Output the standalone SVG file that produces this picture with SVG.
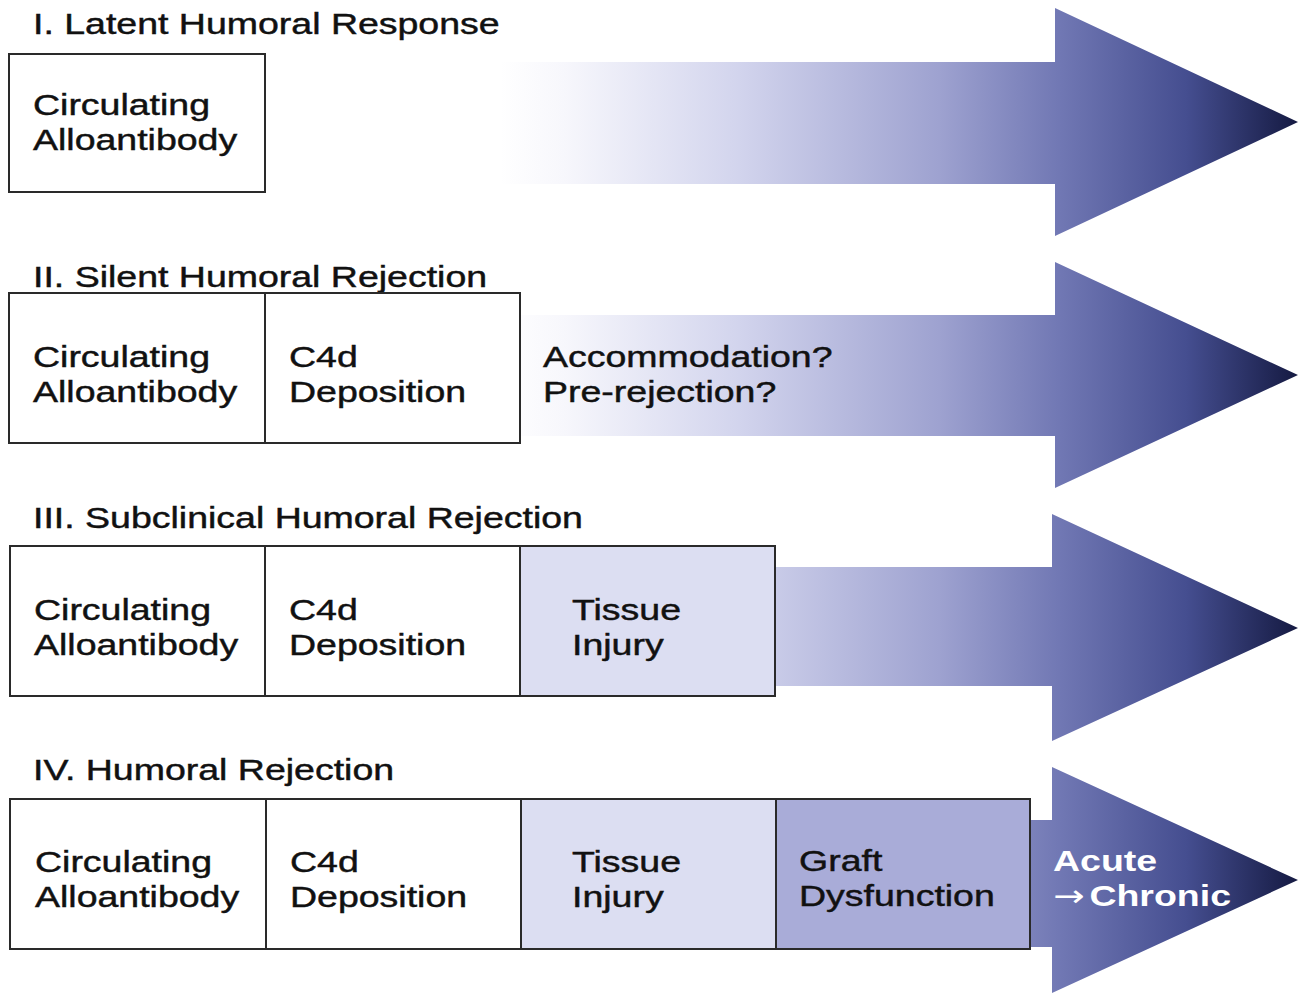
<svg xmlns="http://www.w3.org/2000/svg" width="1298" height="994" viewBox="0 0 1298 994">
<defs>
<linearGradient id="grad" gradientUnits="userSpaceOnUse" x1="500" y1="0" x2="1298" y2="0">
<stop offset="0" stop-color="#ffffff"/>
<stop offset="0.08" stop-color="#f7f7fc"/>
<stop offset="0.3" stop-color="#d2d4ed"/>
<stop offset="0.55" stop-color="#9ea2d0"/>
<stop offset="0.7" stop-color="#7178b4"/>
<stop offset="0.86" stop-color="#454e90"/>
<stop offset="1" stop-color="#151a42"/>
</linearGradient>
<style>
.box{stroke:#2a2a2a;stroke-width:2;}
.w{fill:#ffffff;}
.l{fill:#dcdef2;}
.m{fill:#a9acd8;}
.t{font-family:"Liberation Sans",Arial,sans-serif;font-size:30px;fill:#111111;stroke:#111111;stroke-width:0.45px;}
.b{font-family:"Liberation Sans",Arial,sans-serif;font-size:30px;font-weight:bold;fill:#ffffff;}
.ar{font-family:"DejaVu Sans",sans-serif;font-weight:normal;}
.arrow{fill:url(#grad);}
</style>
</defs>
<rect width="1298" height="994" fill="#ffffff"/>
<g id="connectors">
<polygon class="arrow" points="500,62 1055,62 1055,8 1298,122 1055,236 1055,184 500,184"/>
<polygon class="arrow" points="520,315 1055,315 1055,262 1298,375 1055,488 1055,436 520,436"/>
<polygon class="arrow" points="770,567 1052,567 1052,514 1298,628 1052,741 1052,686 770,686"/>
<polygon class="arrow" points="1025,820 1052,820 1052,767 1298,880 1052,993 1052,947 1025,947"/>
</g>
<g id="row1">
<text class="t" transform="translate(33,34) scale(1.25 1)">I. Latent Humoral Response</text>
<g id="r1-circ">
<rect class="box w" x="9" y="54" width="256" height="138"/>
<text class="t" transform="translate(33,115) scale(1.25 1)"><tspan x="0" y="0">Circulating</tspan><tspan x="0" y="35">Alloantibody</tspan></text>
</g>
</g>
<g id="row2">
<text class="t" transform="translate(33,287) scale(1.25 1)">II. Silent Humoral Rejection</text>
<g id="r2-circ">
<rect class="box w" x="9" y="293" width="256" height="150"/>
<text class="t" transform="translate(33,367) scale(1.25 1)"><tspan x="0" y="0">Circulating</tspan><tspan x="0" y="35">Alloantibody</tspan></text>
</g>
<g id="r2-c4d">
<rect class="box w" x="265" y="293" width="255" height="150"/>
<text class="t" transform="translate(289,367) scale(1.25 1)"><tspan x="0" y="0">C4d</tspan><tspan x="0" y="35">Deposition</tspan></text>
</g>
<g id="r2-acc">
<text class="t" transform="translate(543,367) scale(1.25 1)"><tspan x="0" y="0">Accommodation?</tspan><tspan x="0" y="35">Pre-rejection?</tspan></text>
</g>
</g>
<g id="row3">
<text class="t" transform="translate(33,528) scale(1.25 1)">III. Subclinical Humoral Rejection</text>
<g id="r3-circ">
<rect class="box w" x="10" y="546" width="255" height="150"/>
<text class="t" transform="translate(34,620) scale(1.25 1)"><tspan x="0" y="0">Circulating</tspan><tspan x="0" y="35">Alloantibody</tspan></text>
</g>
<g id="r3-c4d">
<rect class="box w" x="265" y="546" width="255" height="150"/>
<text class="t" transform="translate(289,620) scale(1.25 1)"><tspan x="0" y="0">C4d</tspan><tspan x="0" y="35">Deposition</tspan></text>
</g>
<g id="r3-tissue">
<rect class="box l" x="520" y="546" width="255" height="150"/>
<text class="t" transform="translate(572,620) scale(1.25 1)"><tspan x="0" y="0">Tissue</tspan><tspan x="0" y="35">Injury</tspan></text>
</g>
</g>
<g id="row4">
<text class="t" transform="translate(33,780) scale(1.25 1)">IV. Humoral Rejection</text>
<g id="r4-circ">
<rect class="box w" x="10" y="799" width="256" height="150"/>
<text class="t" transform="translate(35,872) scale(1.25 1)"><tspan x="0" y="0">Circulating</tspan><tspan x="0" y="35">Alloantibody</tspan></text>
</g>
<g id="r4-c4d">
<rect class="box w" x="266" y="799" width="255" height="150"/>
<text class="t" transform="translate(290,872) scale(1.25 1)"><tspan x="0" y="0">C4d</tspan><tspan x="0" y="35">Deposition</tspan></text>
</g>
<g id="r4-tissue">
<rect class="box l" x="521" y="799" width="255" height="150"/>
<text class="t" transform="translate(572,872) scale(1.25 1)"><tspan x="0" y="0">Tissue</tspan><tspan x="0" y="35">Injury</tspan></text>
</g>
<g id="r4-graft">
<rect class="box m" x="776" y="799" width="254" height="150"/>
<text class="t" transform="translate(799,871) scale(1.25 1)"><tspan x="0" y="0">Graft</tspan><tspan x="0" y="35">Dysfunction</tspan></text>
</g>
<g id="r4-acute">
<text class="b" transform="translate(1053,871) scale(1.25 1)"><tspan x="0" y="0">Acute</tspan><tspan x="0" y="35" class="ar">→</tspan><tspan dx="4">Chronic</tspan></text>
</g>
</g>
</svg>
